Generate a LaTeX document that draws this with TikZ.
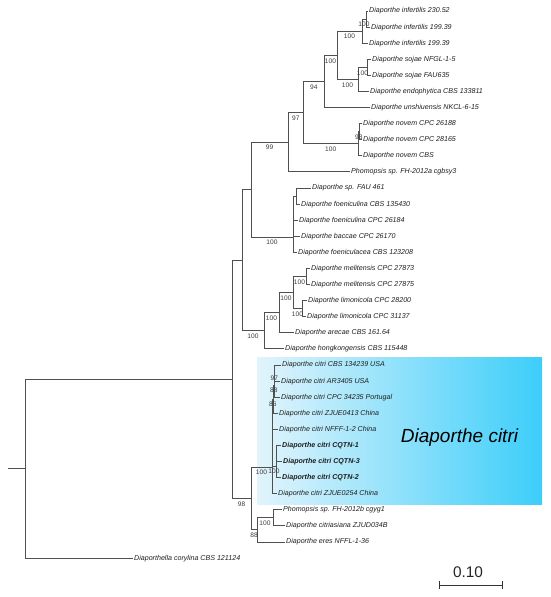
\documentclass[tikz,border=0pt]{standalone}
\usepackage{fontspec}
\newfontfamily\arialf{Liberation Sans}
\newcommand\mylf{\arialf\fontsize{7.1}{8}\selectfont\itshape}
\newcommand\mybf{\arialf\fontsize{7.1}{8}\selectfont\bfseries\itshape}
\newcommand\mybs{\arialf\fontsize{6.6}{7}\selectfont}
\definecolor{linec}{RGB}{80,80,80}
\definecolor{labc}{RGB}{30,30,30}
\definecolor{bsc}{RGB}{60,60,60}
\definecolor{boxl}{RGB}{226,244,252}
\definecolor{boxr}{RGB}{60,206,250}
\begin{document}
\begin{tikzpicture}[x=1pt,y=-1pt,
  br/.style={draw=linec,line width=0.85pt},
  leaf/.style={anchor=west,inner sep=1pt,font=\mylf,text=labc,text height=5.2pt,text depth=1.4pt},
  leafb/.style={leaf,font=\mybf},
  bs/.style={font=\mybs,text=bsc,inner sep=0pt}]
\useasboundingbox (0,0) rectangle (550,597);
\shade[left color=boxl,right color=boxr] (257,357) rectangle (542,504);
% internal nodes
\coordinate (rs) at (8,468.7);
\coordinate (r0) at (25,468.7);
\coordinate (A) at (232,379.2);
\coordinate (B) at (242,260);
\coordinate (U) at (251,498.5);
\coordinate (C) at (251,189.6);
\coordinate (P) at (264,330.8);
\coordinate (G) at (288,142.2);
\coordinate (D) at (293,237);
\coordinate (H) at (303.5,112.6);
\coordinate (J) at (324,81.4);
\coordinate (I) at (337,55.3);
\coordinate (K) at (362,31.1);
\coordinate (L) at (366,19.05);
\coordinate (M) at (358,79.4);
\coordinate (N) at (367,67.35);
\coordinate (Nv) at (358,143.7);
\coordinate (Nw) at (359.5,131.7);
\coordinate (E) at (296,196);
\coordinate (Q) at (279,312.7);
\coordinate (R) at (293,292.6);
\coordinate (S) at (306,276.5);
\coordinate (T) at (302,308.6);
\coordinate (X) at (272,467);
\coordinate (Y) at (276,466);
\coordinate (n86) at (273.5,399.2);
\coordinate (n88) at (274,385.1);
\coordinate (n97) at (274.5,373);
\coordinate (V) at (257,529.9);
\coordinate (W) at (273,517.8);
% leaves
\node[leaf] (l1) at (368,11.0) {Diaporthe infertilis 230.52};
\node[leaf] (l2) at (370,27.1) {Diaporthe infertilis 199.39};
\node[leaf] (l3) at (368,43.2) {Diaporthe infertilis 199.39};
\node[leaf] (l4) at (371,59.3) {Diaporthe sojae NFGL-1-5};
\node[leaf] (l5) at (371,75.4) {Diaporthe sojae FAU635};
\node[leaf] (l6) at (369,91.5) {Diaporthe endophytica CBS 133811};
\node[leaf] (l7) at (370,107.5) {Diaporthe unshiuensis NKCL-6-15};
\node[leaf] (l8) at (362,123.6) {Diaporthe novem CPC 26188};
\node[leaf] (l9) at (362,139.7) {Diaporthe novem CPC 28165};
\node[leaf] (l10) at (362,155.8) {Diaporthe novem CBS};
\node[leaf] (l11) at (350,171.9) {Phomopsis sp. FH-2012a cgbsy3};
\node[leaf] (l12) at (311,188.0) {Diaporthe sp. FAU 461};
\node[leaf] (l13) at (300,204.1) {Diaporthe foeniculina CBS 135430};
\node[leaf] (l14) at (298,220.2) {Diaporthe foeniculina CPC 26184};
\node[leaf] (l15) at (300,236.3) {Diaporthe baccae CPC 26170};
\node[leaf] (l16) at (297,252.4) {Diaporthe foeniculacea CBS 123208};
\node[leaf] (l17) at (310,268.4) {Diaporthe melitensis CPC 27873};
\node[leaf] (l18) at (310,284.5) {Diaporthe melitensis CPC 27875};
\node[leaf] (l19) at (307,300.6) {Diaporthe limonicola CPC 28200};
\node[leaf] (l20) at (306,316.7) {Diaporthe limonicola CPC 31137};
\node[leaf] (l21) at (294,332.8) {Diaporthe arecae CBS 161.64};
\node[leaf] (l22) at (284,348.9) {Diaporthe hongkongensis CBS 115448};
\node[leaf] (l23) at (281,365.0) {Diaporthe citri CBS 134239 USA};
\node[leaf] (l24) at (280,381.1) {Diaporthe citri AR3405 USA};
\node[leaf] (l25) at (280,397.2) {Diaporthe citri CPC 34235 Portugal};
\node[leaf] (l26) at (278,413.3) {Diaporthe citri ZJUE0413 China};
\node[leaf] (l27) at (278,429.4) {Diaporthe citri NFFF-1-2 China};
\node[leafb] (l28) at (281,445.4) {Diaporthe citri CQTN-1};
\node[leafb] (l29) at (282,461.5) {Diaporthe citri CQTN-3};
\node[leafb] (l30) at (281,477.6) {Diaporthe citri CQTN-2};
\node[leaf] (l31) at (277,493.7) {Diaporthe citri ZJUE0254 China};
\node[leaf] (l32) at (282,509.8) {Phomopsis sp. FH-2012b cgyg1};
\node[leaf] (l33) at (285,525.9) {Diaporthe citriasiana ZJUD034B};
\node[leaf] (l34) at (285,542.0) {Diaporthe eres NFFL-1-36};
\node[leaf] (l35) at (133,558.1) {Diaporthella corylina CBS 121124};
% branches
\draw[br] (rs) -- (r0);
\draw[br] (r0) |- (A);
\draw[br] (r0) |- (l35.west);
\draw[br] (A) |- (B);
\draw[br] (A) |- (U);
\draw[br] (B) |- (C);
\draw[br] (B) |- (P);
\draw[br] (C) |- (G);
\draw[br] (C) |- (D);
\draw[br] (G) |- (H);
\draw[br] (G) |- (l11.west);
\draw[br] (H) |- (J);
\draw[br] (H) |- (Nv);
\draw[br] (J) |- (I);
\draw[br] (J) |- (l7.west);
\draw[br] (I) |- (K);
\draw[br] (I) |- (M);
\draw[br] (K) |- (L);
\draw[br] (K) |- (l3.west);
\draw[br] (L) |- (l1.west);
\draw[br] (L) |- (l2.west);
\draw[br] (M) |- (N);
\draw[br] (M) |- (l6.west);
\draw[br] (N) |- (l4.west);
\draw[br] (N) |- (l5.west);
\draw[br] (Nv) |- (Nw);
\draw[br] (Nv) |- (l10.west);
\draw[br] (Nw) |- (l8.west);
\draw[br] (Nw) |- (l9.west);
\draw[br] (D) |- (E);
\draw[br] (D) |- (l14.west);
\draw[br] (D) |- (l15.west);
\draw[br] (D) |- (l16.west);
\draw[br] (E) |- (l12.west);
\draw[br] (E) |- (l13.west);
\draw[br] (P) |- (Q);
\draw[br] (P) |- (l22.west);
\draw[br] (Q) |- (R);
\draw[br] (Q) |- (l21.west);
\draw[br] (R) |- (S);
\draw[br] (R) |- (T);
\draw[br] (S) |- (l17.west);
\draw[br] (S) |- (l18.west);
\draw[br] (T) |- (l19.west);
\draw[br] (T) |- (l20.west);
\draw[br] (U) |- (X);
\draw[br] (U) |- (V);
\draw[br] (X) |- (n86);
\draw[br] (X) |- (l27.west);
\draw[br] (X) |- (Y);
\draw[br] (X) |- (l31.west);
\draw[br] (n86) |- (n88);
\draw[br] (n86) |- (l26.west);
\draw[br] (n88) |- (n97);
\draw[br] (n88) |- (l25.west);
\draw[br] (n97) |- (l23.west);
\draw[br] (n97) |- (l24.west);
\draw[br] (Y) |- (l28.west);
\draw[br] (Y) |- (l29.west);
\draw[br] (Y) |- (l30.west);
\draw[br] (V) |- (W);
\draw[br] (V) |- (l34.west);
\draw[br] (W) |- (l32.west);
\draw[br] (W) |- (l33.west);
% bootstrap values
\node[bs] (bL) at (364,24.5) {100};
\node[bs] (bK) at (349.5,36.6) {100};
\node[bs] (bN) at (362.5,72.9) {100};
\node[bs] (bM) at (347.5,84.9) {100};
\node[bs] (bI) at (330.5,60.8) {100};
\node[bs] (bJ) at (313.75,86.9) {94};
\node[bs] (bH) at (295.75,118.1) {97};
\node[bs] (bG) at (269.5,147.7) {99};
\node[bs] (bNv) at (330.75,149.2) {100};
\node[bs] (bNw) at (358.75,137.2) {98};
\node[bs] (bD) at (272,242.5) {100};
\node[bs] (bP) at (253,336.3) {100};
\node[bs] (bQ) at (271.5,318.2) {100};
\node[bs] (bR) at (286,298.1) {100};
\node[bs] (bS) at (299.5,282) {100};
\node[bs] (bT) at (297.5,314.1) {100};
\node[bs] (bU) at (241.5,504) {98};
\node[bs] (bX) at (261.5,472.5) {100};
\node[bs] (bY) at (274,471.5) {100};
\node[bs] (bn86) at (272.75,404.7) {86};
\node[bs] (bn88) at (273.75,390.6) {88};
\node[bs] (bn97) at (274.25,378.5) {97};
\node[bs] (bV) at (254,535.4) {88};
\node[bs] (bW) at (265,523.3) {100};
% clade label
\node[anchor=base,inner sep=0pt,font=\arialf\fontsize{19}{22}\selectfont\itshape,text=black] (clade) at (459.5,442) {Diaporthe citri};
% scale bar
\coordinate (sb1) at (439,585);
\coordinate (sb2) at (502,585);
\draw[br,line width=1pt,black!80] (sb1) -- (sb2);
\draw[br,line width=1pt,black!80] ([yshift=-4pt]sb1) -- ([yshift=4pt]sb1);
\draw[br,line width=1pt,black!80] ([yshift=-4pt]sb2) -- ([yshift=4pt]sb2);
\node[anchor=base,inner sep=0pt,font=\arialf\fontsize{15.4}{17}\selectfont,text=black!85] (sbt) at (468,577) {0.10};
\end{tikzpicture}
\end{document}
